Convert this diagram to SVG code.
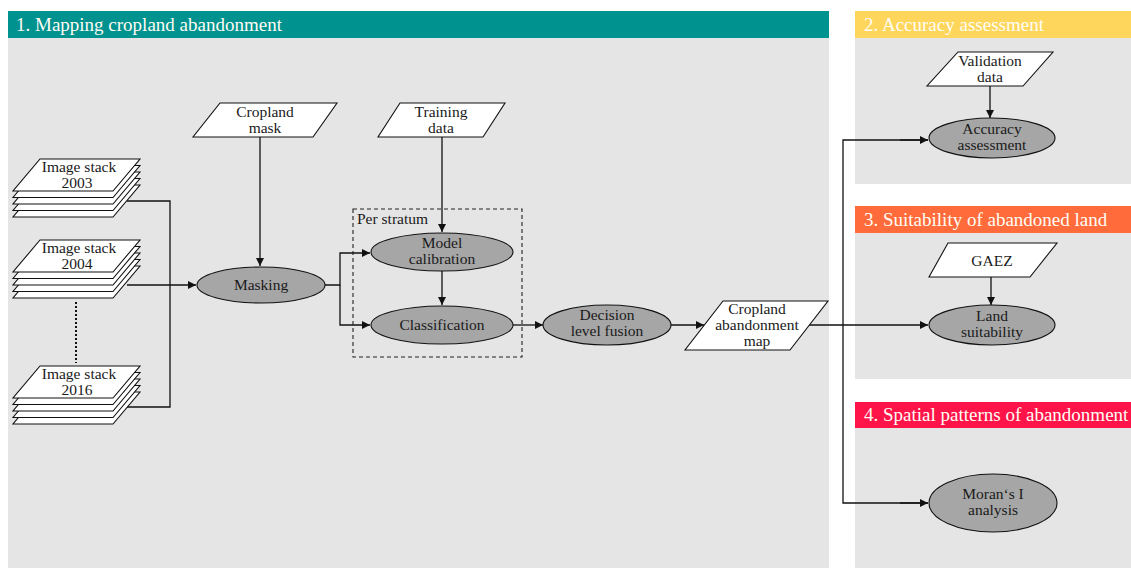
<svg xmlns="http://www.w3.org/2000/svg" width="1131" height="568" viewBox="0 0 1131 568">
<style>
.panel{fill:#e5e5e5}
.hdr{font-family:"Liberation Serif","Times New Roman",serif;font-size:19px;fill:#fffdf5}
.t{font-family:"Liberation Serif","Times New Roman",serif;font-size:15.5px;fill:#1a1a1a;text-anchor:middle}
.par{fill:#fff;stroke:#111;stroke-width:1.1}
.ell{fill:#a6a6a6;stroke:#111;stroke-width:1.1}
.c{fill:none;stroke:#111;stroke-width:1.3}
</style>
<defs>
<marker id="ah" viewBox="0 0 10 10" refX="10" refY="5" markerWidth="8" markerHeight="8" markerUnits="userSpaceOnUse" orient="auto">
<path d="M0,0 L10,5 L0,10 z" fill="#111"/>
</marker>
<polygon id="plate" points="40,0 140,0 113,32 13,32" class="par"/>
</defs>
<rect width="1131" height="568" fill="#fff"/>

<g id="panel1">
<rect class="panel" x="8" y="38" width="821" height="530"/>
<rect x="8" y="11" width="821" height="27" fill="#00928f"/>
<text class="hdr" x="16" y="31">1. Mapping cropland abandonment</text>
</g>
<g id="panel2">
<rect class="panel" x="855" y="38" width="276" height="146"/>
<rect x="855" y="11" width="276" height="27" fill="#ffd65c"/>
<text class="hdr" x="864" y="31">2. Accuracy assessment</text>
</g>
<g id="panel3">
<rect class="panel" x="855" y="233" width="276" height="146"/>
<rect x="855" y="206" width="276" height="27" fill="#ff6b3b"/>
<text class="hdr" x="864" y="226">3. Suitability of abandoned land</text>
</g>
<g id="panel4">
<rect class="panel" x="855" y="428" width="276" height="140"/>
<rect x="855" y="402" width="276" height="26" fill="#ff1449"/>
<text class="hdr" x="864" y="421">4. Spatial patterns of abandonment</text>
</g>

<g id="connectors">
<polyline class="c" points="127,201 170,201 170,407 127,407"/>
<line class="c" x1="127" y1="285" x2="196" y2="285" marker-end="url(#ah)"/>
<line x1="76" y1="302" x2="76" y2="363" stroke="#111" stroke-width="2" stroke-dasharray="2,2"/>
<line class="c" x1="260" y1="137" x2="260" y2="266" marker-end="url(#ah)"/>
<polyline class="c" points="325,285 340,285 340,253 370,253" marker-end="url(#ah)"/>
<polyline class="c" points="340,285 340,325 370,325" marker-end="url(#ah)"/>
<line class="c" x1="442" y1="137" x2="442" y2="232" marker-end="url(#ah)"/>
<line class="c" x1="442" y1="271" x2="442" y2="305" marker-end="url(#ah)"/>
<line class="c" x1="513" y1="325" x2="543" y2="325" marker-end="url(#ah)"/>
<line class="c" x1="671" y1="325" x2="704" y2="325" marker-end="url(#ah)"/>
<line class="c" x1="809" y1="325" x2="928" y2="325" marker-end="url(#ah)"/>
<polyline class="c" points="928,140 843,140 843,503 928,503"/>
<line class="c" x1="900" y1="140" x2="928" y2="140" marker-end="url(#ah)"/>
<line class="c" x1="900" y1="503" x2="928" y2="503" marker-end="url(#ah)"/>
<line class="c" x1="990" y1="86" x2="990" y2="118" marker-end="url(#ah)"/>
<line class="c" x1="991" y1="277" x2="991" y2="305" marker-end="url(#ah)"/>
<rect x="353" y="209" width="169" height="148" fill="none" stroke="#222" stroke-width="1.1" stroke-dasharray="4,3"/>
<text class="t" x="357" y="224" style="text-anchor:start">Per stratum</text>
</g>

<g id="stack2003" transform="translate(0,159)">
<use href="#plate" y="26"/><use href="#plate" y="19.5"/><use href="#plate" y="13"/><use href="#plate" y="6.5"/><use href="#plate"/>
<text class="t" x="79" y="13">Image stack</text>
<text class="t" x="77" y="29">2003</text>
</g>
<g id="stack2004" transform="translate(0,240)">
<use href="#plate" y="26"/><use href="#plate" y="19.5"/><use href="#plate" y="13"/><use href="#plate" y="6.5"/><use href="#plate"/>
<text class="t" x="79" y="13">Image stack</text>
<text class="t" x="77" y="29">2004</text>
</g>
<g id="stack2016" transform="translate(0,366)">
<use href="#plate" y="26"/><use href="#plate" y="19.5"/><use href="#plate" y="13"/><use href="#plate" y="6.5"/><use href="#plate"/>
<text class="t" x="79" y="13">Image stack</text>
<text class="t" x="77" y="29">2016</text>
</g>

<g id="cropland-mask">
<polygon class="par" points="220,103 337,103 313,137 193,137"/>
<text class="t" x="265" y="117">Cropland</text>
<text class="t" x="265" y="133">mask</text>
</g>
<g id="training-data">
<polygon class="par" points="400,103 505,103 483,137 378,137"/>
<text class="t" x="441" y="117">Training</text>
<text class="t" x="441" y="133">data</text>
</g>
<g id="masking">
<ellipse class="ell" cx="261" cy="285" rx="64" ry="18"/>
<text class="t" x="261" y="290">Masking</text>
</g>
<g id="model-calibration">
<ellipse class="ell" cx="442" cy="252" rx="71" ry="19"/>
<text class="t" x="442" y="248">Model</text>
<text class="t" x="442" y="264">calibration</text>
</g>
<g id="classification">
<ellipse class="ell" cx="442" cy="325" rx="71" ry="19"/>
<text class="t" x="442" y="330">Classification</text>
</g>
<g id="decision-fusion">
<ellipse class="ell" cx="607" cy="325" rx="64" ry="20"/>
<text class="t" x="607" y="320">Decision</text>
<text class="t" x="607" y="336">level fusion</text>
</g>
<g id="abandonment-map">
<polygon class="par" points="723,301 828,301 790,350 685,350"/>
<text class="t" x="757" y="314">Cropland</text>
<text class="t" x="757" y="330">abandonment</text>
<text class="t" x="757" y="346">map</text>
</g>
<g id="validation-data">
<polygon class="par" points="958,52 1053,52 1023,86 927,86"/>
<text class="t" x="990" y="66">Validation</text>
<text class="t" x="990" y="82">data</text>
</g>
<g id="accuracy-assessment">
<ellipse class="ell" cx="992" cy="138" rx="63" ry="20"/>
<text class="t" x="992" y="134">Accuracy</text>
<text class="t" x="992" y="150">assessment</text>
</g>
<g id="gaez">
<polygon class="par" points="948,243 1057,243 1030,277 929,277"/>
<text class="t" x="992" y="266">GAEZ</text>
</g>
<g id="land-suitability">
<ellipse class="ell" cx="992" cy="325" rx="63" ry="20"/>
<text class="t" x="992" y="321">Land</text>
<text class="t" x="992" y="337">suitability</text>
</g>
<g id="morans-i">
<ellipse class="ell" cx="993" cy="503" rx="64" ry="29"/>
<text class="t" x="993" y="499">Moran‘s I</text>
<text class="t" x="993" y="515">analysis</text>
</g>
</svg>
